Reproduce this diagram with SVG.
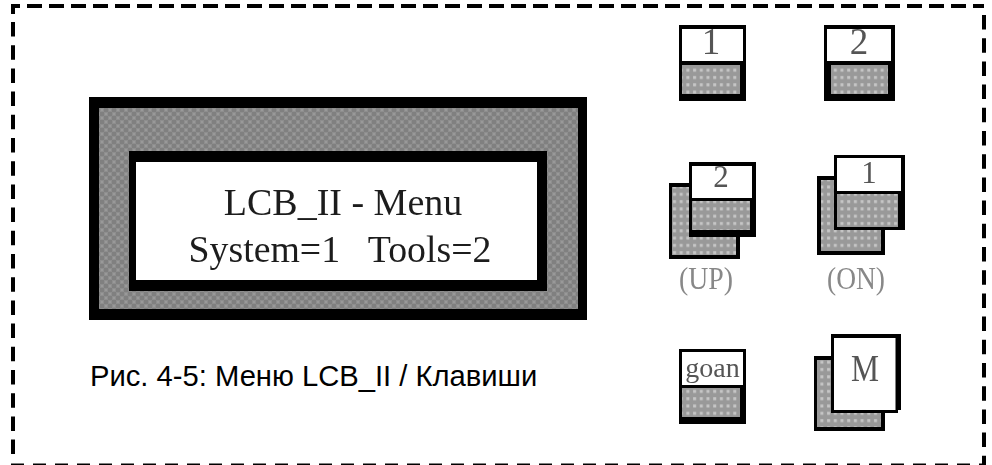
<svg xmlns="http://www.w3.org/2000/svg" width="992" height="465" viewBox="0 0 992 465">
<style>
.k{fill:#000}.w{fill:#fff}.g{fill:url(#dots)}.m{fill:url(#checks)}
.s{font-family:"Liberation Serif","Times New Roman",serif;text-anchor:middle;fill:#555;white-space:pre}
.l{fill:#1c1c1c}.p{fill:#888}
.dash{fill:none;stroke:#000}
</style>
<defs>
<pattern id="dots" width="6.7" height="7.3" patternUnits="userSpaceOnUse" x="1" y="1"><rect width="6.7" height="7.3" fill="#999"/><rect x="2" y="2" width="3" height="3" fill="#c6c6c6"/></pattern>
<pattern id="checks" width="8" height="8" patternUnits="userSpaceOnUse"><rect width="8" height="8" fill="#808080"/><rect width="4" height="4" fill="#8e8e8e"/><rect x="4" y="4" width="4" height="4" fill="#8e8e8e"/><rect x="1" y="1" width="2" height="2" fill="#999"/><rect x="5" y="5" width="2" height="2" fill="#999"/></pattern>
<filter id="soft" x="-5%" y="-10%" width="110%" height="120%"><feGaussianBlur stdDeviation="0.55"/></filter>
</defs>
<rect width="992" height="465" fill="#fff"/>
<g id="connectors"></g>
<g id="frame">
<path class="dash" stroke-width="4" stroke-dasharray="15 7" d="M13 14V6H984"/>
<path class="dash" stroke-width="4" stroke-dasharray="14.5 8.7" d="M984 15V464"/>
<path class="dash" stroke-width="4" stroke-dasharray="14.5 8.7" d="M13 22V456"/>
<path class="dash" stroke-width="1.5" stroke-dasharray="13 9" d="M11 464.2H986"/>
</g>
<g id="display">
<rect class="k" x="89" y="97" width="498" height="223"/>
<rect class="m" x="99" y="108" width="479" height="201"/>
<rect class="k" x="129" y="151" width="418" height="140"/>
<rect class="w" x="136" y="162" width="401" height="118"/>
<text class="s l" x="343" y="215" font-size="38" filter="url(#soft)">LCB_II - Menu</text>
<text class="s l" x="340" y="262" font-size="37.8" filter="url(#soft)">System=1   Tools=2</text>
</g>
<g id="key-1">
<rect class="k" x="679" y="25" width="67" height="76"/><rect class="w" x="682" y="29" width="61" height="32"/><rect class="g" x="682" y="65" width="58" height="29"/>
<text class="s" x="711" y="54" font-size="37" filter="url(#soft)">1</text>
</g>
<g id="key-2">
<rect class="k" x="824" y="25" width="71" height="76"/><rect class="w" x="827" y="29" width="64" height="32"/><rect class="g" x="831" y="65" width="57" height="29"/>
<text class="s" x="859" y="54" font-size="37" filter="url(#soft)">2</text>
</g>
<g id="key-up">
<rect class="k" x="669" y="183" width="71" height="76"/><rect class="g" x="672" y="187" width="64" height="68"/>
<rect class="k" x="689" y="162" width="67" height="75"/><rect class="w" x="692" y="166" width="60" height="32"/><rect class="g" x="692" y="201" width="58" height="29"/>
<text class="s" x="721" y="187" font-size="31" filter="url(#soft)">2</text>
<text class="s p" x="706" y="289" font-size="32" textLength="54" lengthAdjust="spacingAndGlyphs" filter="url(#soft)">(UP)</text>
</g>
<g id="key-on">
<rect class="k" x="817" y="176" width="68" height="79"/><rect class="g" x="821" y="180" width="60" height="71"/>
<rect class="k" x="834" y="155" width="71" height="75"/><rect class="w" x="837" y="158" width="64" height="33"/><rect class="g" x="837" y="194" width="61" height="33"/>
<text class="s" x="869" y="183" font-size="31" filter="url(#soft)">1</text>
<text class="s p" x="856" y="289" font-size="32" textLength="58" lengthAdjust="spacingAndGlyphs" filter="url(#soft)">(ON)</text>
</g>
<g id="key-goan">
<rect class="k" x="679" y="349" width="67" height="75"/><rect class="w" x="682" y="352" width="61" height="33"/><rect class="g" x="682" y="388" width="58" height="29"/>
<text class="s" x="712.500" y="377" font-size="28" filter="url(#soft)">goan</text>
</g>
<g id="key-m">
<rect class="k" x="814" y="356" width="71" height="75"/><rect class="g" x="817" y="360" width="64" height="67"/>
<rect class="k" x="831" y="334" width="70" height="76"/><rect class="k" x="831" y="410" width="67" height="3"/><rect class="w" x="834" y="338" width="61.500" height="72"/>
<text class="s" x="865" y="381" font-size="37" textLength="28" lengthAdjust="spacingAndGlyphs" filter="url(#soft)">M</text>
</g>
<g id="caption">
<text x="90" y="385.500" font-size="29.2" font-family="'Liberation Sans',Arial,sans-serif" fill="#000">Рис. 4-5: Меню LCB_II / Клавиши</text>
</g>
</svg>
